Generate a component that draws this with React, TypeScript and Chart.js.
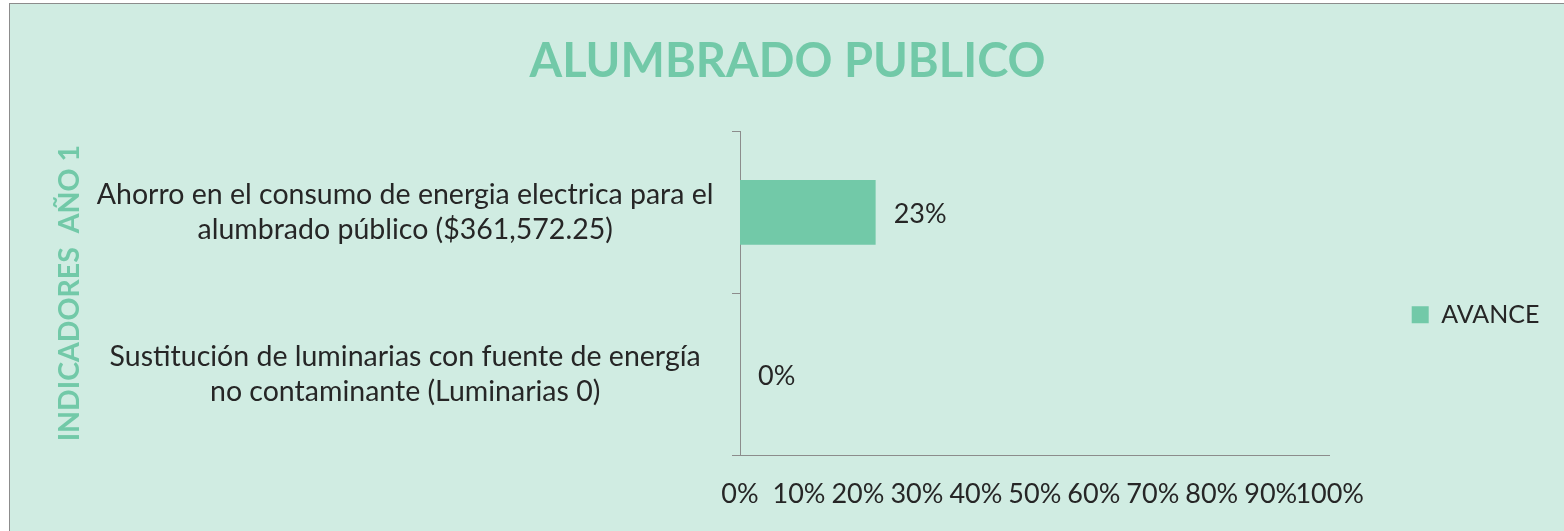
import { useEffect, useRef } from "react";
import { Chart, registerables } from "chart.js";

Chart.register(...registerables);

const chartTitle = "ALUMBRADO PUBLICO";
const yAxisTitle = "INDICADORES  AÑO 1";
const seriesName = "AVANCE";
const categories: string[][] = [
  ["Ahorro en el consumo de energia electrica para el", "alumbrado público ($361,572.25)"],
  ["Sustitución de luminarias con fuente de energía", "no contaminante (Luminarias 0)"],
];
const avance: number[] = [23, 0];
const xMin = 0;
const xMax = 100;
const xStep = 10;

const GREEN = "#72c9a8";
const BG = "#d0ece2";
const TEXT = "#262626";
const AXIS = "#8c8c8c";
const FONT = "Lato";

const dataLabels = {
  id: "dataLabels",
  afterDatasetsDraw(chart: any) {
    const ctx = chart.ctx;
    const meta = chart.getDatasetMeta(0);
    ctx.save();
    ctx.font = `27px ${FONT}`;
    ctx.fillStyle = TEXT;
    ctx.textAlign = "left";
    ctx.textBaseline = "middle";
    meta.data.forEach((el: any, i: number) => {
      const v = chart.data.datasets[0].data[i];
      ctx.fillText(`${v}%`, el.x + 18, el.y + 2);
    });
    ctx.restore();
  },
};

export default function App() {
  const ref = useRef<HTMLCanvasElement>(null);
  useEffect(() => {
    if (!ref.current) return;
    const chart = new Chart(ref.current, {
      type: "bar",
      data: {
        labels: categories,
        datasets: [
          {
            label: seriesName,
            data: avance,
            backgroundColor: GREEN,
            borderWidth: 0,
            categoryPercentage: 0.4,
            barPercentage: 1,
          },
        ],
      },
      plugins: [dataLabels],
      options: {
        indexAxis: "y",
        responsive: false,
        animation: false,
        layout: { padding: { left: 15.5, right: 14.5, top: 0, bottom: 20.8 } },
        plugins: {
          title: {
            display: true,
            text: chartTitle,
            color: GREEN,
            font: { family: FONT, size: 47, weight: "bold" },
            padding: { top: 30, bottom: 41 },
          },
          legend: {
            display: true,
            position: "right",
            fullSize: false,
            title: {
              display: true,
              text: " ",
              font: { family: FONT, size: 12 },
              padding: { top: 14.3, bottom: 14.3 },
            },
            labels: {
              boxWidth: 17,
              boxHeight: 17,
              padding: 82,
              color: TEXT,
              font: { family: FONT, size: 25 },
            },
          },
          tooltip: { enabled: false },
        },
        scales: {
          x: {
            min: xMin,
            max: xMax,
            ticks: {
              stepSize: xStep,
              color: TEXT,
              font: { family: FONT, size: 27 },
              padding: 0,
              maxRotation: 0,
              autoSkip: false,
              callback: (v: any) => `${v}%`,
            },
            grid: { display: false, drawTicks: true, tickLength: 22.8 },
            border: { display: true, color: AXIS, width: 1 },
          },
          y: {
            ticks: {
              color: TEXT,
              font: { family: FONT, size: 28.5, lineHeight: 1.228 },
              padding: 18.5,
              crossAlign: "center",
            },
            grid: {
              display: true,
              drawOnChartArea: false,
              drawTicks: true,
              tickLength: 8,
              color: AXIS,
              offset: true,
            },
            border: { display: true, color: AXIS, width: 1 },
            title: {
              display: true,
              text: yAxisTitle,
              color: GREEN,
              font: { family: FONT, size: 28.5, weight: "bold" },
              padding: { top: 27.5, bottom: 4 },
            },
            afterFit: (s: any) => {
              s.width = 714.5;
              s.paddingTop = 0;
              s.paddingBottom = 0;
            },
          },
        },
      },
    });
    return () => chart.destroy();
  }, []);

  return (
    <div
      style={{
        position: "absolute",
        left: 9,
        top: 3,
        width: 1555,
        height: 528,
        boxSizing: "border-box",
        borderLeft: `1px solid ${AXIS}`,
        borderTop: `1px solid ${AXIS}`,
        background: BG,
        overflow: "hidden",
      }}
    >
      <canvas ref={ref} width={1554} height={527} style={{ display: "block" }} />
    </div>
  );
}
